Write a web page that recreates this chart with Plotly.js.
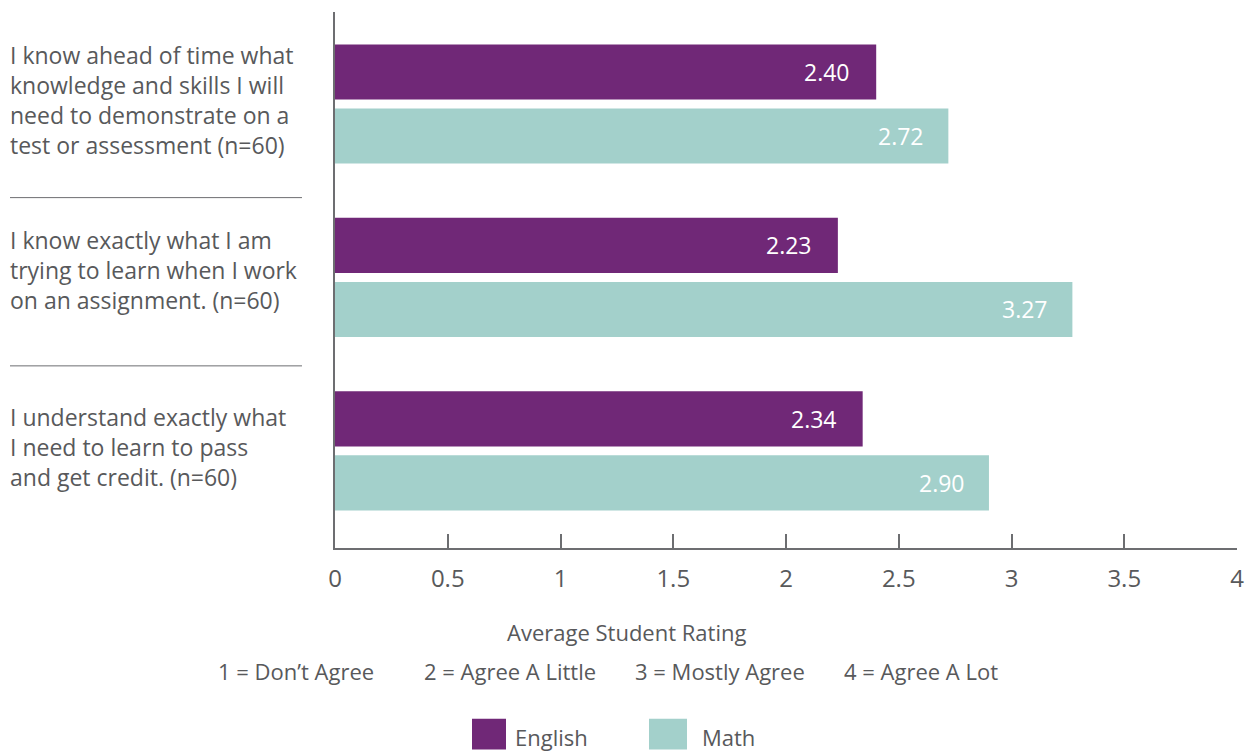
<!DOCTYPE html>
<html>
<head>
<meta charset="utf-8">
<script src="https://cdn.plot.ly/plotly-3.0.1.min.js"></script>
<style>html,body{margin:0;padding:0;background:#fff;}#chart{width:1252px;height:751px;}</style>
</head>
<body>
<div id="chart"></div>
<script>
const categories = [
  "I know ahead of time what<br>knowledge and skills I will<br>need to demonstrate on a<br>test or assessment (n=60)",
  "I know exactly what I am<br>trying to learn when I work<br>on an assignment. (n=60)",
  "I understand exactly what<br>I need to learn to pass<br>and get credit. (n=60)"
];
const englishValues = [2.40, 2.23, 2.34];
const mathValues = [2.72, 3.27, 2.90];
const xTickValues = [0, 0.5, 1, 1.5, 2, 2.5, 3, 3.5, 4];
const xTickLabels = ["0", "0.5", "1", "1.5", "2", "2.5", "3", "3.5", "4"];
const scaleLabels = ["1 = Don\u2019t Agree", "2 = Agree A Little", "3 = Mostly Agree", "4 = Agree A Lot"];
const seriesNames = ["English", "Math"];

const PURPLE = "#702877";
const TEAL = "#a3d0cb";
const GRAY = "#58595b";
const FONT = "Open Sans, sans-serif";
const ids = categories.map((c, i) => i);

const traces = [
  {type: "bar", orientation: "h", name: seriesNames[0], y: ids, x: englishValues,
   marker: {color: PURPLE}, hoverinfo: "x"},
  {type: "bar", orientation: "h", name: seriesNames[1], y: ids, x: mathValues,
   marker: {color: TEAL}, hoverinfo: "x"}
];

const annotations = [];
// value labels
englishValues.forEach((v, i) => annotations.push({
  x: v, y: i, xref: "x", yref: "y", text: v.toFixed(2), showarrow: false,
  xanchor: "right", xshift: -24, yshift: 32, font: {family: FONT, size: 23, color: "#ffffff"}
}));
mathValues.forEach((v, i) => annotations.push({
  x: v, y: i, xref: "x", yref: "y", text: v.toFixed(2), showarrow: false,
  xanchor: "right", xshift: -22, yshift: -32, font: {family: FONT, size: 23, color: "#ffffff"}
}));
// category labels
const catShift = [4, 7, 4];
categories.forEach((c, i) => annotations.push({
  x: -0.3628, y: i, xref: "paper", yref: "y", text: c, showarrow: false,
  xanchor: "left", yanchor: "middle", align: "left", yshift: catShift[i],
  font: {family: FONT, size: 23, color: GRAY}
}));
// axis title
annotations.push({x: (626 - 335) / 902, y: -0.157, xref: "paper", yref: "paper", text: "Average Student Rating",
  showarrow: false, xanchor: "center", yanchor: "middle", font: {family: FONT, size: 22, color: GRAY}});
const scaleX = [296, 510, 720, 921];
scaleLabels.forEach((t, i) => annotations.push({
  x: (scaleX[i] - 335) / 902, y: -0.229, xref: "paper", yref: "paper", text: t, showarrow: false,
  xanchor: "center", yanchor: "middle", font: {family: FONT, size: 22, color: GRAY}
}));
// legend text
annotations.push({x: (513 - 335) / 902, y: -0.352, xref: "paper", yref: "paper", text: seriesNames[0],
  showarrow: false, xanchor: "left", yanchor: "middle", font: {family: FONT, size: 22, color: GRAY}});
annotations.push({x: (700 - 335) / 902, y: -0.352, xref: "paper", yref: "paper", text: seriesNames[1],
  showarrow: false, xanchor: "left", yanchor: "middle", font: {family: FONT, size: 22, color: GRAY}});

const shapes = [
  {type: "line", xref: "paper", yref: "y", x0: -0.3603, x1: -0.0366, y0: 0.54, y1: 0.54,
   line: {color: "#6d6e71", width: 1}},
  {type: "line", xref: "paper", yref: "y", x0: -0.3603, x1: -0.0366, y0: 1.51, y1: 1.51,
   line: {color: "#6d6e71", width: 1}},
  {type: "rect", xref: "paper", yref: "paper", x0: (472 - 335) / 902, x1: (506 - 335) / 902,
   y0: -0.3758, y1: -0.3184, fillcolor: PURPLE, line: {width: 0}},
  {type: "rect", xref: "paper", yref: "paper", x0: (649 - 335) / 902, x1: (687 - 335) / 902,
   y0: -0.3758, y1: -0.3184, fillcolor: TEAL, line: {width: 0}}
];

const layout = {
  width: 1252, height: 751,
  margin: {l: 335, r: 15, t: 12, b: 203, pad: 0},
  paper_bgcolor: "#ffffff", plot_bgcolor: "#ffffff",
  barmode: "group", bargap: 0.262, bargroupgap: 0.14,
  showlegend: false,
  font: {family: FONT, color: GRAY},
  xaxis: {
    range: [0, 4], tickvals: xTickValues, ticktext: xTickLabels,
    showgrid: false, zeroline: false, showline: true, linecolor: "#6d6e71", linewidth: 2,
    ticks: "inside", ticklen: 14, tickwidth: 2, tickcolor: "#6d6e71",
    ticklabelstandoff: 8,
    tickfont: {family: FONT, size: 24, color: GRAY}
  },
  yaxis: {
    range: [2.56, -0.53], showticklabels: false, showgrid: false, zeroline: false,
    showline: true, linecolor: "#6d6e71", linewidth: 2, ticks: "", fixedrange: true
  },
  annotations: annotations,
  shapes: shapes
};

Plotly.newPlot("chart", traces, layout, {displayModeBar: false, staticPlot: true});
</script>
</body>
</html>
